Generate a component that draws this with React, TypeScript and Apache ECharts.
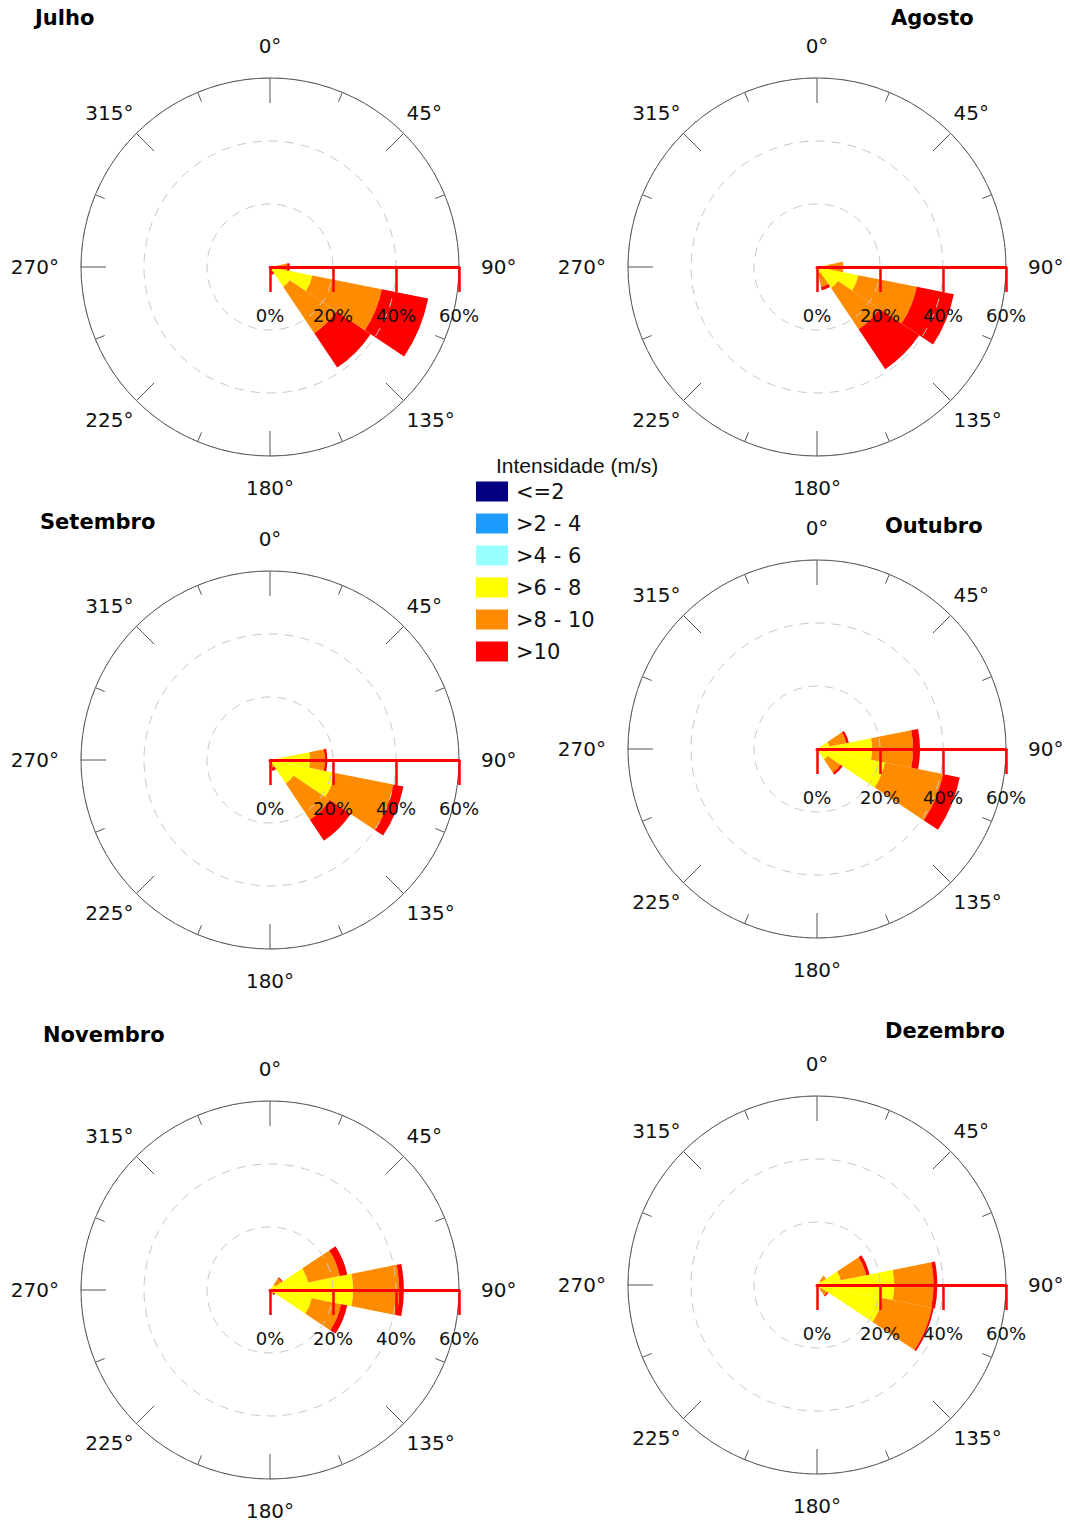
import React, { useEffect, useRef } from 'react';
import * as echarts from 'echarts';

// 16 compass sectors, clockwise from north
const DIRECTIONS = ['N', 'NNE', 'NE', 'ENE', 'E', 'ESE', 'SE', 'SSE', 'S', 'SSW', 'SW', 'WSW', 'W', 'WNW', 'NW', 'NNW'];

// wind speed classes (m/s) and their colours
const SPEED_CLASSES = ['<=2', '>2 - 4', '>4 - 6', '>6 - 8', '>8 - 10', '>10'];
const CLASS_COLORS = ['#000080', '#1e9bff', '#99ffff', '#ffff00', '#ff8c00', '#ff0000'];

// frequency (%) per direction, one entry per speed class (in SPEED_CLASSES order)
const JULHO: Record<string, number[]> = {
  E: [0, 0, 0.3, 1.5, 3.7, 0.8],
  ESE: [0, 0, 0.5, 13.2, 22.5, 15.0],
  SE: [0, 0, 0.3, 7.2, 17.8, 13.1],
  SSE: [0, 0, 0, 0.5, 1.0, 1.0],
};
const AGOSTO: Record<string, number[]> = {
  E: [0, 0, 0.3, 3.0, 5.1, 0],
  ESE: [0, 0, 1.0, 12.4, 18.9, 12.0],
  SE: [0, 0, 0.5, 7.5, 15.8, 15.2],
  SSE: [0, 0, 0, 2.0, 4.5, 1.0],
};
const SETEMBRO: Record<string, number[]> = {
  E: [0, 0, 0.5, 12.2, 4.7, 0.8],
  ESE: [0, 0, 0.5, 20.6, 18.9, 3.2],
  SE: [0, 0, 0.3, 8.7, 13.8, 8.0],
  SSE: [0, 0, 0, 0.5, 2.0, 1.0],
};
const OUTUBRO: Record<string, number[]> = {
  ENE: [0, 0, 0, 4.0, 5.5, 0.8],
  E: [0, 0, 0.5, 17.0, 13.0, 2.2],
  ESE: [0, 0, 1.5, 20.5, 18.8, 5.4],
  SE: [0, 0, 0, 4.0, 5.0, 0.8],
};
const NOVEMBRO: Record<string, number[]> = {
  NE: [0, 0, 0, 2.0, 2.5, 0.4],
  ENE: [0, 0, 0, 12.3, 10.3, 2.4],
  E: [0, 0, 0.3, 26.1, 14.6, 1.5],
  ESE: [0, 0, 0, 13.5, 9.5, 2.0],
  SE: [0, 0, 0, 0.5, 1.0, 0.5],
};
const DEZEMBRO: Record<string, number[]> = {
  NE: [0, 0, 0, 1.5, 2.0, 0],
  ENE: [0, 0, 0, 7.7, 8.2, 1.1],
  E: [0, 0, 0.5, 24.0, 12.5, 1.2],
  ESE: [0, 0, 1.0, 20.2, 16.0, 0.6],
  SE: [0, 0, 0, 1.5, 2.5, 0.4],
};

const MONTH_NAMES = ['Julho', 'Agosto', 'Setembro', 'Outubro', 'Novembro', 'Dezembro'];
const MONTH_DATA = [JULHO, AGOSTO, SETEMBRO, OUTUBRO, NOVEMBRO, DEZEMBRO];

// radial scale (%) and angle ticks (degrees)
const RADIUS_MAX = 60;
const RADIUS_STEP = 20;
const ANGLE_STEP = 45;

// page layout: rose centres and title anchors
const CENTERS: [number, number][] = [
  [270, 267], [817, 267],
  [270, 760], [817, 749],
  [270, 1290], [817, 1285],
];
const TITLE_POS: [number, number][] = [
  [35, 7], [891, 7],
  [40, 511], [885, 515],
  [43, 1024], [885, 1020],
];
const ROSE_RADIUS = 189;
const FONT = 'DejaVu Sans';

const cardinalLabel = (v: number) => (v === 360 || v % 90 !== 0 ? '' : v + '°');
// diagonal labels: upper ones lifted, lower ones dropped a few pixels
const diagonalLabel = (v: number) => {
  if (v === 360 || v % 90 === 0) return '';
  const upper = v < 90 || v > 270;
  return (upper ? '{up|' : '{down|') + v + '°}';
};

function buildOption() {
  const polar: any[] = [];
  const angleAxis: any[] = [];
  const radiusAxis: any[] = [];
  const grid: any[] = [];
  const xAxis: any[] = [];
  const yAxis: any[] = [];
  const series: any[] = [];
  const title: any[] = [];
  const n = CENTERS.length;

  // layer 1: stacked bars
  CENTERS.forEach((c, k) => {
    polar.push({ center: c, radius: ROSE_RADIUS });
    angleAxis.push({
      polarIndex: k,
      type: 'category',
      data: DIRECTIONS,
      startAngle: 90 + 360 / DIRECTIONS.length / 2,
      clockwise: true,
      show: false,
    });
    radiusAxis.push({ polarIndex: k, min: 0, max: RADIUS_MAX, show: false });
    const data = MONTH_DATA[k];
    SPEED_CLASSES.forEach((name, ci) => {
      series.push({
        type: 'bar',
        name,
        coordinateSystem: 'polar',
        polarIndex: k,
        stack: 'rose' + k,
        barCategoryGap: '0%',
        itemStyle: { color: CLASS_COLORS[ci] },
        data: DIRECTIONS.map((d) => (data[d] ? data[d][ci] : 0)),
        z: 1,
      });
    });
  });

  // layer 2: compass circle, ticks, cardinal labels and dashed rings
  CENTERS.forEach((c, k) => {
    const idx = n + k;
    polar.push({ center: c, radius: ROSE_RADIUS });
    angleAxis.push({
      polarIndex: idx,
      type: 'value',
      min: 0,
      max: 360,
      interval: ANGLE_STEP,
      startAngle: 90,
      clockwise: true,
      z: 3,
      axisLine: { lineStyle: { color: '#555', width: 1 } },
      axisTick: { show: true, inside: true, length: 25, lineStyle: { color: '#555', width: 1 } },
      minorTick: { show: true, splitNumber: 2, length: 10, lineStyle: { color: '#555', width: 1 } },
      splitLine: { show: false },
      axisLabel: {
        margin: 22,
        fontSize: 20,
        fontFamily: FONT,
        color: '#111',
        formatter: cardinalLabel,
      },
    });
    radiusAxis.push({
      polarIndex: idx,
      min: 0,
      max: RADIUS_MAX,
      interval: RADIUS_STEP,
      z: 3,
      axisLine: { show: false },
      axisTick: { show: false },
      axisLabel: { show: false },
      splitLine: { show: true, lineStyle: { color: '#c8c8c8', width: 1, type: [9, 7] } },
    });
  });

  // layer 3: diagonal degree labels
  CENTERS.forEach((c, k) => {
    const idx = 2 * n + k;
    polar.push({ center: c, radius: ROSE_RADIUS });
    angleAxis.push({
      polarIndex: idx,
      type: 'value',
      min: 0,
      max: 360,
      interval: ANGLE_STEP,
      startAngle: 90,
      clockwise: true,
      axisLine: { show: false },
      axisTick: { show: false },
      splitLine: { show: false },
      axisLabel: {
        margin: 4,
        fontSize: 20,
        fontFamily: FONT,
        color: '#111',
        formatter: diagonalLabel,
        rich: {
          up: { fontSize: 20, fontFamily: FONT, color: '#111', padding: [0, 0, 8, 0] },
          down: { fontSize: 20, fontFamily: FONT, color: '#111', padding: [7, 0, 0, 0] },
        },
      },
    });
    radiusAxis.push({ polarIndex: idx, min: 0, max: RADIUS_MAX, show: false });
  });

  // red percentage scale pointing east from each centre
  CENTERS.forEach((c, k) => {
    grid.push({ left: c[0], top: c[1] - 20, width: ROSE_RADIUS, height: 20, containLabel: false });
    xAxis.push({
      gridIndex: k,
      type: 'value',
      position: 'bottom',
      min: 0,
      max: RADIUS_MAX,
      interval: RADIUS_STEP,
      z: 4,
      axisLine: { show: true, onZero: false, lineStyle: { color: '#ff0000', width: 3 } },
      axisTick: { show: true, length: 25, lineStyle: { color: '#ff0000', width: 2.5 } },
      axisLabel: {
        margin: 39,
        fontSize: 18,
        fontFamily: FONT,
        color: '#111',
        formatter: '{value}%',
        showMinLabel: true,
        showMaxLabel: true,
      },
      splitLine: { show: false },
    });
    yAxis.push({ gridIndex: k, type: 'value', show: false });
  });

  MONTH_NAMES.forEach((name, k) => {
    title.push({
      text: name,
      left: TITLE_POS[k][0],
      top: TITLE_POS[k][1],
      padding: 0,
      textStyle: { fontFamily: FONT, fontWeight: 'bold', fontSize: 21, color: '#000' },
    });
  });
  title.push({
    text: 'Intensidade (m/s)',
    left: 496,
    top: 455,
    padding: 0,
    textStyle: { fontFamily: 'Liberation Sans', fontWeight: 'normal', fontSize: 21, color: '#111' },
  });

  return {
    animation: false,
    backgroundColor: '#ffffff',
    title,
    legend: {
      orient: 'vertical',
      left: 476,
      top: 481,
      padding: 0,
      itemWidth: 32,
      itemHeight: 20,
      itemGap: 11,
      icon: 'rect',
      selectedMode: false,
      data: SPEED_CLASSES,
      textStyle: { fontFamily: FONT, fontSize: 21, color: '#111', padding: [0, 0, 0, 3] },
    },
    polar,
    angleAxis,
    radiusAxis,
    grid,
    xAxis,
    yAxis,
    series,
  };
}

export default function App() {
  const ref = useRef<HTMLDivElement>(null);
  useEffect(() => {
    if (!ref.current) return;
    const chart = echarts.init(ref.current, undefined, { renderer: 'svg' });
    chart.setOption(buildOption());
    return () => chart.dispose();
  }, []);
  return (
    <div
      ref={ref}
      style={{ position: 'fixed', left: 0, top: 0, width: 1070, height: 1524, background: '#fff' }}
    />
  );
}
